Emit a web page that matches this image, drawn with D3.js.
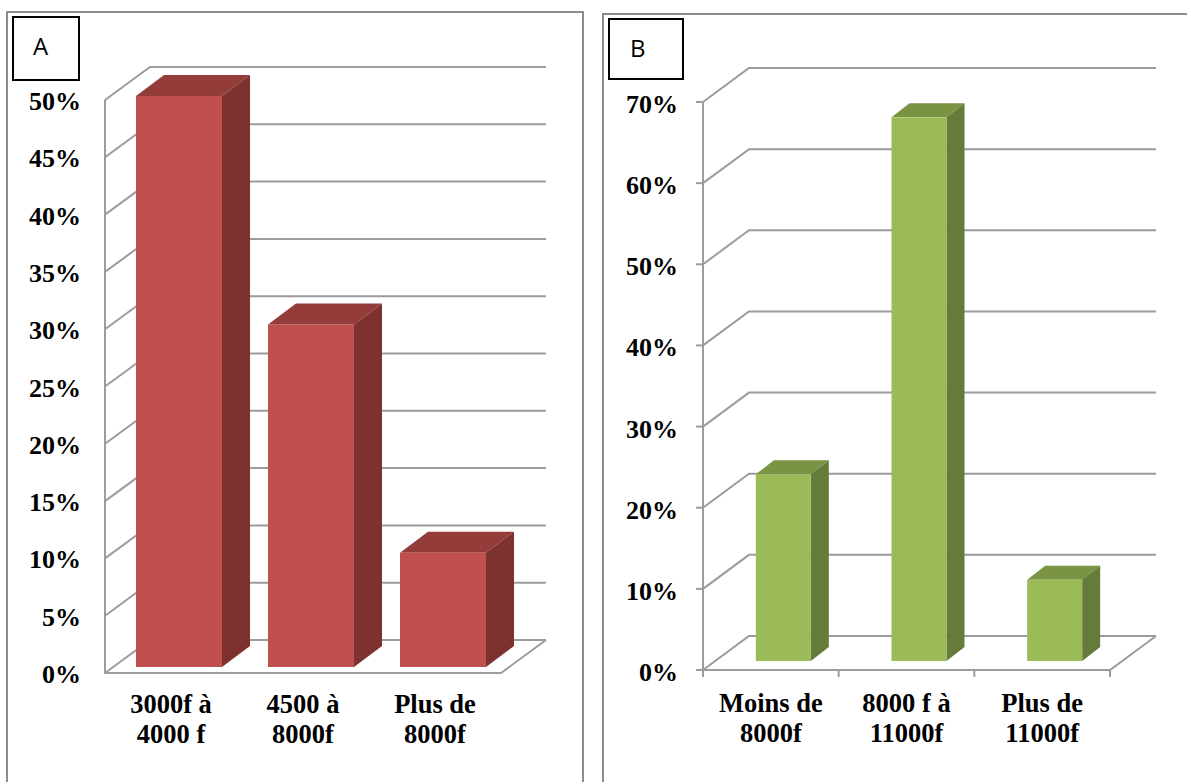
<!DOCTYPE html>
<html>
<head>
<meta charset="utf-8">
<script src="https://cdn.jsdelivr.net/npm/d3@7"></script>
<style>
  html, body { margin: 0; padding: 0; background: #fff; }
  svg { display: block; }
  .tick-label { font-family: "Liberation Serif", serif; font-weight: bold; font-size: 26px; fill: #000; }
  .cat-label { font-family: "Liberation Serif", serif; font-weight: bold; font-size: 26.5px; fill: #000; }
  .panel-name { font-family: "Open Sans", sans-serif; font-size: 24px; fill: #000; }
</style>
</head>
<body>
<div id="chart"></div>
<script>
// chart values
var categoriesA = [["3000f à", "4000 f"], ["4500 à", "8000f"], ["Plus de", "8000f"]];
var valuesA = [50, 30, 10];
var ticksA = [0, 5, 10, 15, 20, 25, 30, 35, 40, 45, 50];

var categoriesB = [["Moins de", "8000f"], ["8000 f à", "11000f"], ["Plus de", "11000f"]];
var valuesB = [23, 67, 10];
var ticksB = [0, 10, 20, 30, 40, 50, 60, 70];

var svg = d3.select("#chart")
  .append("svg")
    .attr("width", 1187)
    .attr("height", 782);

var gridColor = "#9c9c9c";

// one panel = frame + name box + fake 3d column chart
function drawPanel(p) {
  var g = svg.append("g");

  // frame, open at the bottom (B runs off the right edge of the page)
  g.append("path")
    .attr("d", p.frame)
    .attr("fill", "none")
    .attr("stroke", "#8c8c8c")
    .attr("stroke-width", 2);

  // scales for the front wall and for the plane the bars stand on
  var x = d3.scaleBand()
      .domain(d3.range(p.categories.length))
      .range([p.left, p.right]);
  var y = d3.scaleLinear()
      .domain([0, p.max])
      .range([p.bottom, p.top]);
  var barY = d3.scaleLinear()
      .domain([0, p.max])
      .range(p.barRange);

  // walls: one bent line per tick
  g.append("g")
    .selectAll("path")
    .data(p.ticks)
    .enter()
    .append("path")
      .attr("fill", "none")
      .attr("stroke", gridColor)
      .attr("stroke-width", 2)
      .attr("d", function(d) {
        return "M" + p.left + "," + y(d) + "L" + (p.left + p.dx) + "," + (y(d) - p.dy) + "H" + (p.right + p.dx);
      });

  // left axis, floor front edge, floor right edge
  g.append("path")
    .attr("fill", "none")
    .attr("stroke", gridColor)
    .attr("stroke-width", 2)
    .attr("d", "M" + p.left + "," + y(p.max) + "V" + y(0) + "H" + p.right + "L" + (p.right + p.dx) + "," + (y(0) - p.dy));

  // small tick marks, only panel B has them
  if (p.tickMarks) {
    g.append("g")
      .selectAll("line")
      .data(p.ticks)
      .enter()
      .append("line")
        .attr("x1", p.left - 7)
        .attr("x2", p.left)
        .attr("y1", function(d) { return y(d); })
        .attr("y2", function(d) { return y(d); })
        .attr("stroke", gridColor)
        .attr("stroke-width", 2);
    g.append("g")
      .selectAll("line")
      .data(d3.range(p.categories.length + 1))
      .enter()
      .append("line")
        .attr("x1", function(d) { return p.left + d * x.step(); })
        .attr("x2", function(d) { return p.left + d * x.step(); })
        .attr("y1", y(0))
        .attr("y2", y(0) + 7)
        .attr("stroke", gridColor)
        .attr("stroke-width", 2);
  }

  // bars: top, side, then front face
  var bars = g.append("g")
    .selectAll("g")
    .data(p.values)
    .enter()
    .append("g");

  function barLeft(i) { return x(i) + x.bandwidth() / 2 - p.barWidth / 2 + p.barShift; }

  bars.append("path")
    .attr("fill", p.colors.top)
    .attr("d", function(d, i) {
      var x0 = barLeft(i), x1 = x0 + p.barWidth, t = barY(d);
      return "M" + x0 + "," + t + "L" + (x0 + p.barDx) + "," + (t - p.barDy) + "H" + (x1 + p.barDx) + "L" + x1 + "," + t + "Z";
    });
  bars.append("path")
    .attr("fill", p.colors.side)
    .attr("d", function(d, i) {
      var x1 = barLeft(i) + p.barWidth, t = barY(d), b = barY(0);
      return "M" + x1 + "," + t + "L" + (x1 + p.barDx) + "," + (t - p.barDy) + "V" + (b - p.barDy) + "L" + x1 + "," + b + "Z";
    });
  bars.append("rect")
    .attr("fill", p.colors.front)
    .attr("x", function(d, i) { return barLeft(i); })
    .attr("y", function(d) { return barY(d); })
    .attr("width", p.barWidth)
    .attr("height", function(d) { return barY(0) - barY(d); });

  // labels
  g.append("g")
    .selectAll("text")
    .data(p.ticks)
    .enter()
    .append("text")
      .attr("class", "tick-label")
      .attr("text-anchor", "end")
      .attr("x", p.tickX)
      .attr("y", function(d) { return y(d) + p.tickDy; })
      .text(function(d) { return d + "%"; });

  g.append("g")
    .selectAll("text")
    .data(p.categories)
    .enter()
    .append("text")
      .attr("class", "cat-label")
      .attr("text-anchor", "middle")
      .attr("y", p.catY)
      .selectAll("tspan")
      .data(function(d, i) { return d.map(function(s) { return {s: s, i: i}; }); })
      .enter()
      .append("tspan")
        .attr("x", function(d) { return x(d.i) + x.bandwidth() / 2; })
        .attr("dy", function(d, j) { return j ? 30 : 0; })
        .text(function(d) { return d.s; });

  // name box
  g.append("rect")
    .attr("x", p.box[0])
    .attr("y", p.box[1])
    .attr("width", p.box[2])
    .attr("height", p.box[3])
    .attr("fill", "#fff")
    .attr("stroke", "#000")
    .attr("stroke-width", 2);
  g.append("text")
    .attr("class", "panel-name")
    .attr("x", p.nameX)
    .attr("y", p.nameY)
    .text(p.name);
}

drawPanel({
  name: "A", nameX: 33, nameY: 55,
  frame: "M7,782V12H583V782",
  box: [13, 17, 66, 63],
  categories: categoriesA, values: valuesA, ticks: ticksA, max: 50,
  left: 105, right: 501, top: 100, bottom: 673, dx: 45, dy: 33,
  barRange: [667, 96], barWidth: 86, barShift: 8, barDx: 28, barDy: 21,
  tickX: 81, tickDy: 10, catY: 713, tickMarks: false,
  colors: {front: "#c0504d", top: "#943c3a", side: "#7d3230"}
});

drawPanel({
  name: "B", nameX: 630, nameY: 57,
  frame: "M603,782V14H1187",
  box: [609, 19, 74, 60],
  categories: categoriesB, values: valuesB, ticks: ticksB, max: 70,
  left: 703, right: 1110, top: 102, bottom: 670, dx: 46, dy: 34,
  barRange: [661, 93], barWidth: 55, barShift: 12.5, barDx: 18, barDy: 14,
  tickX: 678, tickDy: 11, catY: 712, tickMarks: true,
  colors: {front: "#9bbb59", top: "#7a9443", side: "#667a39"}
});
</script>
</body>
</html>
